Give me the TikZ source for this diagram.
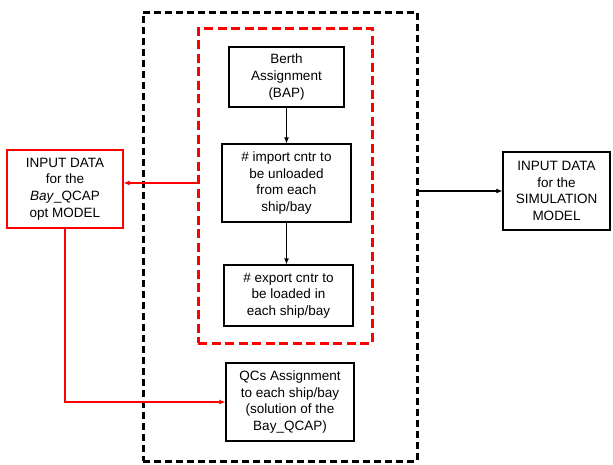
\documentclass[tikz,border=0pt]{standalone}
\usepackage{fontspec}
\setmainfont{Liberation Sans}
\usetikzlibrary{arrows.meta}
\tikzset{
  box/.style={draw, line width=1.1pt, align=center, inner sep=0pt,
    font=\fontsize{13.5}{16.7}\selectfont},
  red box/.style={box, draw=red},
  black frame/.style={draw, line width=3pt, dash pattern=on 7pt off 4pt},
  red frame/.style={draw=red, line width=3pt, dash pattern=on 9pt off 4.5pt},
  flow/.style={-{Latex[length=6pt,width=5pt]}, line width=1.1pt},
  red flow/.style={flow, draw=red, line width=1.6pt},
}

\begin{document}
\begin{tikzpicture}[x=1pt,y=-1pt]
            \useasboundingbox (0,0) rectangle (613,464);

            % Frames
            \node[black frame, minimum width=274pt, minimum height=449pt] (outer) at (280,236.5) {};
            \node[red frame, minimum width=174pt, minimum height=315pt] (inner) at (285,185.5) {};

            % Boxes
            \node[box, minimum width=115pt, minimum height=60pt] (bap) at (286.5,77) {Berth\\Assignment\\(BAP)};
            \node[box, minimum width=129pt, minimum height=78pt] (imp) at (286.5,183) {\# import cntr to\\be unloaded\\from each\\ship/bay};
            \node[box, minimum width=129pt, minimum height=61pt] (exp) at (288.5,295.5) {\# export cntr to\\be loaded in\\each ship/bay};
            \node[box, minimum width=128pt, minimum height=78pt] (qcs) at (290,402) {QCs Assignment\\to each ship/bay\\(solution of the\\Bay\_QCAP)};
            \node[red box, minimum width=116pt, minimum height=78pt] (optin) at (65,189) {INPUT DATA\\for the\\\textit{Bay}\_QCAP\\opt MODEL};
            \node[box, minimum width=107pt, minimum height=78pt] (simin) at (556.5,191) {INPUT DATA\\for the\\SIMULATION\\MODEL};

            % Arrows
            \draw[flow] (bap.south) -- (imp.north);
            \draw[flow] (imp.south) -- (imp.south |- exp.north);
            \draw[flow] (outer.east |- simin) -- (simin.west);
            \draw[red flow] (inner.west |- imp) -- (optin.east |- imp);
            \draw[red flow] (optin.south) |- (qcs.west);
        \end{tikzpicture}
\end{document}
